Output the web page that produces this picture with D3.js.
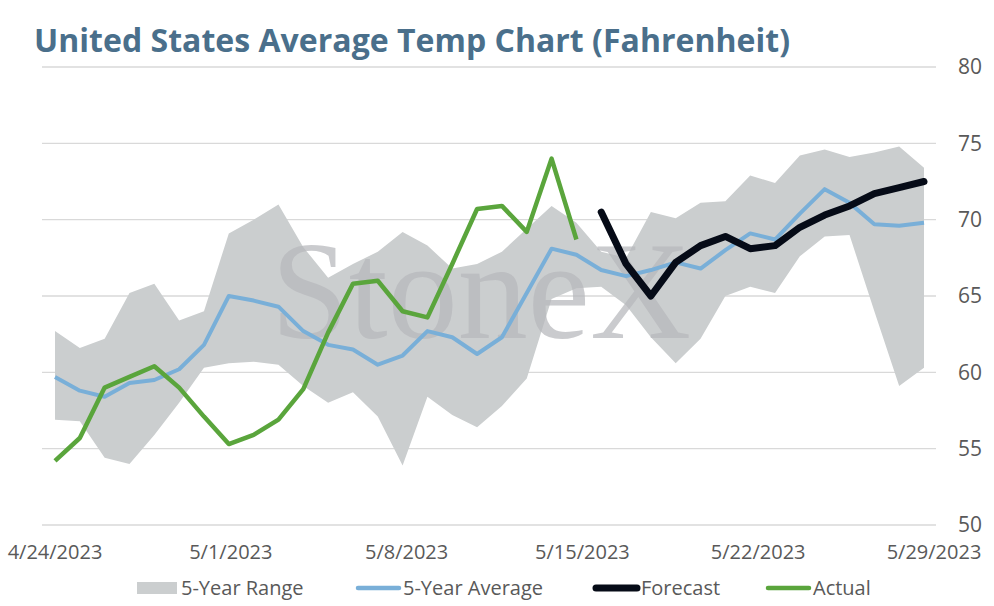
<!DOCTYPE html>
<html lang="en">
<head>
    <meta charset="UTF-8">
    <title>United States Average Temp Chart</title>
    <script src="https://d3js.org/d3.v7.min.js"></script>
    <style>
        body { margin: 0; background: #fff; }
        text { font-family: "Open Sans", Lato, sans-serif; }
    </style>
</head>
<body>
 <div id="mainbody"></div>
 <script>

    // daily dates, 4/24/2023 .. 5/29/2023
    const dates = d3.timeDay.range(new Date(2023, 3, 24), new Date(2023, 4, 30));

    const rangeHigh = [62.7, 61.6, 62.2, 65.2, 65.8, 63.4, 64.0, 69.1, 70.0, 71.0, 68.2, 66.2,
                       67.1, 67.9, 69.2, 68.3, 66.8, 67.1, 67.9, 69.4, 70.9, 69.8, 67.9, 67.5,
                       70.5, 70.1, 71.1, 71.2, 72.9, 72.4, 74.2, 74.6, 74.1, 74.4, 74.8, 73.4];
    const rangeLow  = [56.9, 56.8, 54.4, 54.0, 55.9, 58.0, 60.3, 60.6, 60.7, 60.5, 59.1, 58.0,
                       58.7, 57.1, 53.9, 58.4, 57.2, 56.4, 57.8, 59.6, 64.8, 65.5, 65.6, 64.4,
                       62.3, 60.6, 62.2, 65.0, 65.6, 65.2, 67.6, 68.9, 69.0, 64.0, 59.1, 60.3];
    const avg5yr    = [59.7, 58.8, 58.4, 59.3, 59.5, 60.2, 61.8, 65.0, 64.7, 64.3, 62.7, 61.8,
                       61.5, 60.5, 61.1, 62.7, 62.3, 61.2, 62.3, 65.2, 68.1, 67.7, 66.7, 66.3,
                       66.7, 67.2, 66.8, 68.0, 69.1, 68.7, 70.4, 72.0, 71.1, 69.7, 69.6, 69.8];
    // actual: 4/24 .. 5/15
    const actual    = [54.2, 55.7, 59.0, 59.7, 60.4, 59.0, 57.1, 55.3, 55.9, 56.9, 58.9, 62.6,
                       65.8, 66.0, 64.0, 63.6, 67.1, 70.7, 70.9, 69.2, 74.0, 68.7];
    // forecast: 5/16 .. 5/29
    const forecast  = [70.5, 67.1, 65.0, 67.2, 68.3, 68.9, 68.1, 68.3, 69.5, 70.3, 70.9, 71.7, 72.1, 72.5];

    const yTicks = [50, 55, 60, 65, 70, 75, 80];
    const xTickDates = d3.timeDay.range(new Date(2023, 3, 24), new Date(2023, 4, 30), 7);

    const width = 994, height = 606;
    const svg = d3.select("#mainbody").append("svg")
        .attr("width", width)
        .attr("height", height);

    const x = d3.scaleTime()
        .domain([dates[0], dates[dates.length - 1]])
        .range([55, 924]);
    // excel spreads the date labels a little wider than the plot points
    const xLabel = x.copy().range([55, 934]);
    const y = d3.scaleLinear()
        .domain([50, 80])
        .range([525, 67]);

    // title
    svg.append("text")
        .attr("x", 34)
        .attr("y", 52)
        .attr("fill", "#4a6f8b")
        .style("font-size", "32px")
        .style("font-weight", "bold")
        .attr("textLength", 756)
        .attr("lengthAdjust", "spacing")
        .text("United States Average Temp Chart (Fahrenheit)");

    // gridlines
    svg.append("g").selectAll("line")
        .data(yTicks)
        .enter().append("line")
        .attr("x1", 42).attr("x2", 936)
        .attr("y1", d => y(d)).attr("y2", d => y(d))
        .attr("stroke", "#d9d9d9")
        .attr("stroke-width", 1.3);

    // right axis labels
    svg.append("g").selectAll("text")
        .data(yTicks)
        .enter().append("text")
        .attr("x", 970)
        .attr("y", d => y(d))
        .attr("dy", "0.35em")
        .attr("text-anchor", "middle")
        .attr("fill", "#595959")
        .style("font-size", "21px")
        .text(d => d);

    // x labels
    const fmt = d3.timeFormat("%-m/%-d/%Y");
    svg.append("g").selectAll("text")
        .data(xTickDates)
        .enter().append("text")
        .attr("x", d => xLabel(d))
        .attr("y", 552)
        .attr("dy", "0.35em")
        .attr("text-anchor", "middle")
        .attr("fill", "#595959")
        .style("font-size", "20px")
        .text(d => fmt(d));

    // 5-year range band
    const area = d3.area()
        .x((d, i) => x(dates[i]))
        .y0((d, i) => y(rangeLow[i]))
        .y1(d => y(d));
    svg.append("path")
        .datum(rangeHigh)
        .attr("d", area)
        .attr("fill", "#cbcecf");

    // watermark
    svg.append("text")
        .attr("x", 481)
        .attr("y", 338)
        .attr("text-anchor", "middle")
        .attr("fill", "#b7b8bc")
        .attr("opacity", 0.72)
        .style("font-family", "'Liberation Serif', 'DejaVu Serif', serif")
        .style("font-size", "140px")
        .text("StoneX");

    const line = d3.line()
        .x(d => x(d.date))
        .y(d => y(d.value));

    const avgData = avg5yr.map((v, i) => ({date: dates[i], value: v}));
    const actData = actual.map((v, i) => ({date: dates[i], value: v}));
    const fcData = forecast.map((v, i) => ({date: dates[actual.length + i], value: v}));

    svg.append("path")
        .datum(avgData)
        .attr("d", line)
        .attr("fill", "none")
        .attr("stroke", "#79afd8")
        .attr("stroke-width", 4)
        .attr("stroke-linejoin", "round");

    svg.append("path")
        .datum(actData)
        .attr("d", line)
        .attr("fill", "none")
        .attr("stroke", "#5aa53c")
        .attr("stroke-width", 4.5)
        .attr("stroke-linejoin", "round");

    svg.append("path")
        .datum(fcData)
        .attr("d", line)
        .attr("fill", "none")
        .attr("stroke", "#060b17")
        .attr("stroke-width", 7)
        .attr("stroke-linejoin", "round")
        .attr("stroke-linecap", "round");

    // legend
    const legendItems = [
        {name: "5-Year Range", kind: "rect", color: "#cbcecf", x: 137},
        {name: "5-Year Average", kind: "line", color: "#79afd8", x: 356},
        {name: "Forecast", kind: "line", color: "#060b17", x: 594},
        {name: "Actual", kind: "line", color: "#5aa53c", x: 766}
    ];
    const lg = svg.append("g").selectAll("g")
        .data(legendItems)
        .enter().append("g")
        .attr("transform", d => `translate(${d.x},588)`);

    lg.filter(d => d.kind === "rect").append("rect")
        .attr("x", 0).attr("y", -6)
        .attr("width", 40).attr("height", 12)
        .attr("fill", d => d.color);

    lg.filter(d => d.kind === "line").append("line")
        .attr("x1", 2).attr("x2", 43)
        .attr("y1", 0).attr("y2", 0)
        .attr("stroke", d => d.color)
        .attr("stroke-width", d => d.name === "Forecast" ? 7 : 4.5)
        .attr("stroke-linecap", "round");

    lg.append("text")
        .attr("x", d => d.kind === "rect" ? 44 : 47)
        .attr("y", 0)
        .attr("dy", "0.35em")
        .attr("fill", "#595959")
        .style("font-size", "20px")
        .text(d => d.name);

 </script>
</body>
</html>
